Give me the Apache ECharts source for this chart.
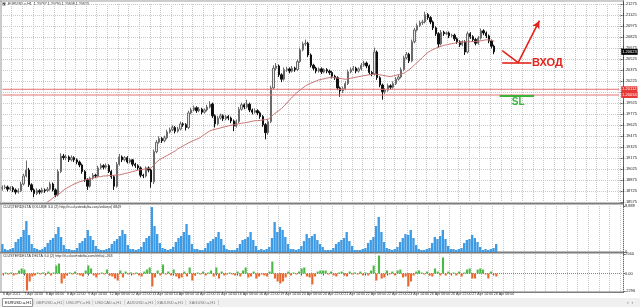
<!DOCTYPE html>
<html>
<head>
<meta charset="utf-8">
<script src="https://cdn.jsdelivr.net/npm/echarts@6.0.0/dist/echarts.min.js"></script>
<style>
html, body { margin: 0; padding: 0; background: #fff; }
#chart { width: 640px; height: 307px; }
</style>
</head>
<body>
<div id="chart"></div>
<script>
const tickLabels = ['6 Apr 2021', '7 Apr 14:00', '8 Apr 06:00', '8 Apr 22:00', '9 Apr 14:00', '12 Apr 06:00',
  '12 Apr 22:00', '13 Apr 14:00', '14 Apr 06:00', '14 Apr 22:00', '15 Apr 14:00', '16 Apr 06:00',
  '16 Apr 22:00', '19 Apr 14:00', '20 Apr 06:00', '20 Apr 22:00', '21 Apr 14:00', '22 Apr 06:00',
  '22 Apr 22:00', '23 Apr 14:00', '26 Apr 06:00', '26 Apr 22:00', '27 Apr 14:00', '28 Apr 06:00'];

const opens = [1.1876,1.1877,1.1878,1.1875,1.1877,1.1874,1.1871,1.1873,1.1882,1.1893,
  1.1901,1.1881,1.1874,1.1869,1.1873,1.1871,1.1874,1.1873,1.1875,1.1882,
  1.1874,1.1867,1.1899,1.1920,1.1918,1.1919,1.1915,1.1918,1.1915,1.1912,
  1.1908,1.1899,1.1888,1.1879,1.1890,1.1894,1.1893,1.1904,1.1907,1.1905,
  1.1907,1.1899,1.1892,1.1879,1.1909,1.1919,1.1915,1.1918,1.1912,1.1915,
  1.1909,1.1907,1.1904,1.1894,1.1893,1.1904,1.1901,1.1885,1.1926,1.1939,
  1.1944,1.1941,1.1945,1.1953,1.1956,1.1959,1.1954,1.1957,1.1964,1.1963,
  1.1959,1.1979,1.1983,1.1986,1.1982,1.1984,1.1980,1.1983,1.1987,1.1991,
  1.1975,1.1964,1.1972,1.1975,1.1971,1.1974,1.1972,1.1968,1.1961,1.1967,
  1.1984,1.1990,1.1987,1.1991,1.1983,1.1980,1.1982,1.1979,1.1974,1.1963,
  1.1952,1.1967,1.2013,1.2040,1.2043,1.2031,1.2025,1.2038,1.2039,1.2036,
  1.2040,1.2038,1.2049,1.2065,1.2073,1.2074,1.2058,1.2044,1.2040,1.2036,
  1.2039,1.2035,1.2038,1.2036,1.2034,1.2029,1.2027,1.2013,1.2009,1.2012,
  1.2019,1.2035,1.2038,1.2040,1.2036,1.2039,1.2044,1.2047,1.2043,1.2034,
  1.2032,1.2062,1.2027,1.2017,1.2008,1.2010,1.2016,1.2014,1.2019,1.2025,
  1.2028,1.2038,1.2054,1.2059,1.2050,1.2076,1.2092,1.2098,1.2102,1.2103,
  1.2113,1.2109,1.2103,1.2095,1.2087,1.2073,1.2089,1.2087,1.2088,1.2084,
  1.2085,1.2080,1.2076,1.2072,1.2076,1.2062,1.2087,1.2083,1.2079,1.2074,
  1.2081,1.2091,1.2088,1.2084,1.2077,1.2070];

const closes = [1.1877,1.1878,1.1875,1.1877,1.1874,1.1871,1.1873,1.1882,1.1893,1.1901,
  1.1881,1.1874,1.1869,1.1873,1.1871,1.1874,1.1873,1.1875,1.1882,1.1874,
  1.1867,1.1899,1.1920,1.1918,1.1919,1.1915,1.1918,1.1915,1.1912,1.1908,
  1.1899,1.1888,1.1879,1.1890,1.1894,1.1893,1.1904,1.1907,1.1905,1.1907,
  1.1899,1.1892,1.1879,1.1909,1.1919,1.1915,1.1918,1.1912,1.1915,1.1909,
  1.1907,1.1904,1.1894,1.1893,1.1904,1.1901,1.1885,1.1926,1.1939,1.1944,
  1.1941,1.1945,1.1953,1.1956,1.1959,1.1954,1.1957,1.1964,1.1963,1.1959,
  1.1979,1.1983,1.1986,1.1982,1.1984,1.1980,1.1983,1.1987,1.1991,1.1975,
  1.1964,1.1972,1.1975,1.1971,1.1974,1.1972,1.1968,1.1961,1.1967,1.1984,
  1.1990,1.1987,1.1991,1.1983,1.1980,1.1982,1.1979,1.1974,1.1963,1.1952,
  1.1967,1.2013,1.2040,1.2043,1.2031,1.2025,1.2038,1.2039,1.2036,1.2040,
  1.2038,1.2049,1.2065,1.2073,1.2074,1.2058,1.2044,1.2040,1.2036,1.2039,
  1.2035,1.2038,1.2036,1.2034,1.2029,1.2027,1.2013,1.2009,1.2012,1.2019,
  1.2035,1.2038,1.2040,1.2036,1.2039,1.2044,1.2047,1.2043,1.2034,1.2032,
  1.2062,1.2027,1.2017,1.2008,1.2010,1.2016,1.2014,1.2019,1.2025,1.2028,
  1.2038,1.2054,1.2059,1.2050,1.2076,1.2092,1.2098,1.2102,1.2103,1.2113,
  1.2109,1.2103,1.2095,1.2087,1.2073,1.2089,1.2087,1.2088,1.2084,1.2085,
  1.2080,1.2076,1.2072,1.2076,1.2062,1.2087,1.2083,1.2079,1.2074,1.2081,
  1.2091,1.2088,1.2084,1.2077,1.2070,1.20623];

const lows = [1.1873,1.1875,1.1872,1.1873,1.1871,1.1868,1.1869,1.1871,1.1880,1.1891,
  1.1878,1.1871,1.1864,1.1867,1.1868,1.1869,1.1870,1.1871,1.1873,1.1872,
  1.1864,1.1865,1.1897,1.1915,1.1915,1.1912,1.1913,1.1912,1.1909,1.1905,
  1.1896,1.1885,1.1874,1.1877,1.1888,1.1890,1.1891,1.1902,1.1902,1.1903,
  1.1897,1.1889,1.1874,1.1877,1.1907,1.1912,1.1913,1.1910,1.1910,1.1906,
  1.1904,1.1901,1.1891,1.1890,1.1891,1.1898,1.1877,1.1882,1.1924,1.1937,
  1.1938,1.1939,1.1943,1.1951,1.1954,1.1951,1.1952,1.1955,1.1960,1.1955,
  1.1957,1.1977,1.1981,1.1979,1.1980,1.1977,1.1978,1.1981,1.1985,1.1972,
  1.1959,1.1962,1.1970,1.1968,1.1969,1.1969,1.1965,1.1954,1.1959,1.1965,
  1.1982,1.1984,1.1985,1.1980,1.1977,1.1978,1.1976,1.1971,1.1960,1.1943,
  1.1949,1.1965,1.2011,1.2037,1.2028,1.2021,1.2023,1.2035,1.2033,1.2034,
  1.2035,1.2036,1.2047,1.2063,1.2070,1.2055,1.2041,1.2037,1.2033,1.2034,
  1.2032,1.2033,1.2033,1.2031,1.2026,1.2024,1.2010,1.2001,1.2006,1.2010,
  1.2017,1.2033,1.2036,1.2033,1.2034,1.2037,1.2042,1.2040,1.2031,1.2029,
  1.2030,1.2024,1.2014,1.1997,1.2005,1.2008,1.2011,1.2012,1.2017,1.2023,
  1.2026,1.2036,1.2052,1.2047,1.2048,1.2074,1.2090,1.2096,1.2099,1.2101,
  1.2106,1.2100,1.2092,1.2084,1.2068,1.2071,1.2084,1.2085,1.2081,1.2082,
  1.2077,1.2073,1.2069,1.2070,1.2058,1.2060,1.2080,1.2076,1.2071,1.2072,
  1.2079,1.2085,1.2081,1.2074,1.2067,1.2059];

const highs = [1.1880,1.1881,1.1880,1.1879,1.1879,1.1876,1.1876,1.1885,1.1896,1.1914,
  1.1904,1.1883,1.1876,1.1876,1.1875,1.1877,1.1876,1.1878,1.1885,1.1884,
  1.1876,1.1902,1.1924,1.1923,1.1922,1.1921,1.1921,1.1920,1.1917,1.1914,
  1.1910,1.1901,1.1890,1.1892,1.1897,1.1896,1.1907,1.1910,1.1909,1.1910,
  1.1909,1.1901,1.1894,1.1912,1.1923,1.1921,1.1920,1.1920,1.1917,1.1916,
  1.1911,1.1909,1.1906,1.1896,1.1906,1.1906,1.1903,1.1929,1.1942,1.1947,
  1.1946,1.1948,1.1956,1.1959,1.1962,1.1961,1.1960,1.1967,1.1966,1.1965,
  1.1982,1.1986,1.1989,1.1988,1.1987,1.1986,1.1985,1.1990,1.1995,1.1993,
  1.1977,1.1975,1.1978,1.1977,1.1976,1.1976,1.1974,1.1970,1.1970,1.1987,
  1.1993,1.1992,1.1997,1.1993,1.1985,1.1985,1.1984,1.1981,1.1976,1.1965,
  1.1970,1.2016,1.2044,1.2047,1.2045,1.2033,1.2041,1.2042,1.2041,1.2043,
  1.2042,1.2052,1.2068,1.2076,1.2079,1.2076,1.2060,1.2046,1.2042,1.2041,
  1.2041,1.2040,1.2040,1.2038,1.2036,1.2031,1.2029,1.2015,1.2015,1.2022,
  1.2038,1.2041,1.2043,1.2042,1.2041,1.2047,1.2050,1.2049,1.2045,1.2036,
  1.2068,1.2064,1.2029,1.2019,1.2013,1.2019,1.2018,1.2022,1.2028,1.2031,
  1.2041,1.2057,1.2062,1.2061,1.2079,1.2095,1.2101,1.2105,1.2106,1.2117,
  1.2115,1.2111,1.2105,1.2097,1.2089,1.2092,1.2091,1.2090,1.2090,1.2087,
  1.2087,1.2082,1.2078,1.2078,1.2078,1.2090,1.2089,1.2085,1.2081,1.2084,
  1.2094,1.2093,1.2090,1.2086,1.2079,1.2072];

// moving average as drawn (its start lies below the visible range)
const maValues = [null,null,null,null,null,null,null,null,null,null,null,null,
  1.18480,1.18494,1.18510,1.18530,1.18550,1.18576,1.18600,1.18630,
  1.18660,1.18680,1.18700,1.18740,1.18760,1.18780,1.18800,1.18820,1.18835,1.18850,
  1.18860,1.18875,1.18885,1.18890,1.18900,1.18910,1.18920,1.18920,1.18930,1.18930,
  1.18935,1.18938,1.18940,1.18942,1.18944,1.18953,1.18963,1.18970,1.18980,1.18990,
  1.18998,1.19010,1.19015,1.19020,1.19026,1.19030,1.19040,1.19080,1.19120,1.19150,
  1.19170,1.19190,1.19210,1.19230,1.19250,1.19270,1.19300,1.19320,1.19340,1.19360,
  1.19380,1.19400,1.19414,1.19430,1.19444,1.19470,1.19496,1.19520,1.19544,1.19557,
  1.19567,1.19575,1.19585,1.19594,1.19604,1.19612,1.19622,1.19628,1.19635,1.19642,
  1.19649,1.19655,1.19660,1.19668,1.19676,1.19683,1.19685,1.19688,1.19694,1.19698,
  1.19703,1.19735,1.19770,1.19796,1.19823,1.19850,1.19885,1.19925,1.19966,1.20007,
  1.20040,1.20075,1.20100,1.20130,1.20157,1.20178,1.20194,1.20210,1.20225,1.20240,
  1.20247,1.20255,1.20264,1.20272,1.20276,1.20270,1.20265,1.20260,1.20254,1.20248,
  1.20255,1.20262,1.20270,1.20277,1.20284,1.20290,1.20298,1.20304,1.20310,1.20315,
  1.20320,1.20315,1.20308,1.20303,1.20296,1.20290,1.20284,1.20294,1.20303,1.20313,
  1.20320,1.20330,1.20355,1.20380,1.20410,1.20444,1.20478,1.20510,1.20546,1.20580,
  1.20614,1.20635,1.20655,1.20670,1.20686,1.20699,1.20710,1.20718,1.20726,1.20733,
  1.20740,1.20746,1.20752,1.20756,1.20759,1.20760,1.20761,1.20763,1.20765,1.20768,
  1.20774,1.20780,1.20787,1.20785,1.20776,1.20768];

const volumes = [1540,
  580,390,580,770,1930,2510,2900,4250,5980,3280,1540,770,
  580,390,580,970,1740,2320,2700,3470,4830,2900,1350,580,
  580,390,390,770,1740,2120,2700,4250,3090,2320,1160,580,
  390,390,580,770,1540,2120,2510,3090,4250,3470,1350,580,
  580,390,580,970,1930,2700,3090,8690,5020,3470,1740,770,
  580,390,580,970,1930,2700,3090,3860,5400,3280,1540,580,
  580,390,390,770,1740,2120,2510,2900,3860,2510,1350,580,
  390,390,390,770,1540,2320,2510,2900,3860,2320,1160,390,
  580,390,580,970,2700,5790,3860,4830,4250,2900,1540,580,
  580,390,580,1160,2120,3470,2700,3090,3470,2320,1540,970,
  390,390,390,770,1540,1930,2320,2700,3860,2120,1160,390,
  390,390,580,770,1740,2320,2900,5020,6760,3860,1930,770,
  580,390,580,970,1930,2700,3470,3280,4250,2700,1350,580,
  390,390,580,770,1740,2900,2510,3090,4250,2510,1160,580,
  580,390,580,770,1740,2320,2510,3280,2700,1930,970,390,
  580,390,580,770,1540];

const deltas = [-130,130,-130,130,-260,-130,390,660,520,-2230,-1050,-390,-260,
  130,-130,130,-130,260,-260,130,1050,1310,-1310,-660,-260,
  130,-130,260,-130,-260,-390,390,1050,660,-260,-520,-130,
  130,-130,520,-260,-390,-660,-920,390,-520,260,-130,130,
  -130,130,-260,-390,260,520,790,-1700,-520,390,-260,1180,
  -130,260,-260,520,-390,-660,-520,260,-390,790,-920,-260,
  130,-130,260,-260,130,390,-390,790,-660,260,-260,-130,
  130,-130,-260,260,-390,390,790,-520,-390,260,-660,-390,
  -130,-260,-390,260,1570,-660,-1050,-1310,-1050,-520,260,-260,
  130,-130,260,660,790,-390,-520,-1440,-390,260,390,390,
  390,-130,260,-260,-390,130,260,-260,-390,260,-130,130,
  -130,260,-260,130,-260,390,1050,-920,2360,-660,-520,390,
  -130,260,-260,390,520,-520,-390,-1700,-1050,-260,260,390,
  130,-130,260,-260,-390,660,260,-260,2100,-260,260,-130,
  130,-260,260,-390,130,520,660,-660,-660,520,660,520,
  -130,-660,260,-130,-390];

const levels = [1.20112, 1.20034];
const volumeMax = 8889;
const deltaRange = [-2296, 2560];
const tabNames = ['EURUSD.a,H1', 'GBPUSD.a,H1', 'USDJPY.a,H1', 'USDCAD.a,H1', 'AUDUSD.a,H1', 'XAUUSD.a,H1', 'XAGUSD.a,H1'];
const slotCount = 233; // bars plus the empty shift area on the right

const categories = [];
for (let i = 0; i < slotCount; i++) categories.push(String(i));
const candles = opens.map((o, i) => [o, closes[i], lows[i], highs[i]]);
const lastClose = closes[closes.length - 1];
const lastSlot = slotCount - 1;

const font = 'Liberation Sans, DejaVu Sans, sans-serif';
const gridLine = { color: '#c9c9c9', type: 'dotted', width: 1 };
const labelAt = (idx) => idx % 8 === 0 && idx / 8 < tickLabels.length;

function xAxisFor(g, bottom) {
  return {
    type: 'category', gridIndex: g, data: categories, boundaryGap: true,
    axisLine: { show: false },
    axisTick: { show: bottom, interval: (i) => labelAt(i), alignWithLabel: true, length: 2, lineStyle: { color: '#555' } },
    axisLabel: {
      show: bottom, interval: (i) => labelAt(i), formatter: (v, i) => tickLabels[i / 8],
      align: 'left', fontSize: 3.6, color: '#333', margin: 1, fontFamily: font
    },
    splitLine: { show: true, interval: 3, lineStyle: gridLine }
  };
}

const tag = (value, bg) => ({
  show: true, formatter: value.toFixed(5), backgroundColor: bg,
  color: '#fff', fontSize: 4, padding: [1, 1], distance: 2
});

// support levels drawn as flat lines across the pane, tagged in the axis strip
const levelSeries = levels.map((v) => ({
  type: 'line', xAxisIndex: 0, yAxisIndex: 0, silent: true, symbol: 'none',
  data: [[0, v], [lastSlot, v]],
  lineStyle: { color: '#e27272', width: 1 },
  endLabel: tag(v, '#e53935')
}));

const redArrow = { color: '#e2231a', width: 1.6, type: 'solid' };
const noLabel = { show: false };

const chart = echarts.init(document.getElementById('chart'));
chart.setOption({
  animation: false,
  backgroundColor: '#fff',
  textStyle: { fontFamily: font },
  grid: [
    { left: 1, right: 17, top: 4, height: 198 },
    { left: 1, right: 17, top: 206, height: 46 },
    { left: 1, right: 17, top: 254, height: 37 }
  ],
  xAxis: [xAxisFor(0, false), xAxisFor(1, false), xAxisFor(2, true)],
  yAxis: [
    {
      type: 'value', gridIndex: 0, position: 'right', min: 1.18575, max: 1.21275, interval: 0.0015,
      axisLine: { show: false }, axisTick: { show: true, length: 2, lineStyle: { color: '#666' } },
      axisLabel: { fontSize: 4, color: '#222', margin: 2, formatter: (v) => v.toFixed(5) },
      splitLine: { show: true, lineStyle: gridLine }
    },
    {
      type: 'value', gridIndex: 1, position: 'right', min: 0, max: volumeMax, interval: volumeMax,
      axisLine: { show: false }, axisTick: { show: true, length: 2, lineStyle: { color: '#666' } },
      axisLabel: { fontSize: 4, color: '#222', margin: 2 },
      splitLine: { show: false }
    },
    {
      type: 'value', gridIndex: 2, position: 'right', min: deltaRange[0], max: deltaRange[1],
      axisLine: { show: false },
      axisTick: { show: true, length: 2, customValues: [deltaRange[0], 0, deltaRange[1]], lineStyle: { color: '#666' } },
      axisLabel: { fontSize: 4, color: '#222', margin: 2, customValues: [deltaRange[0], 0, deltaRange[1]],
        formatter: (v) => (v === 0 ? '0.00' : String(v)) },
      splitLine: { show: false }
    }
  ],
  series: [
    ...levelSeries,
    {
      type: 'candlestick', xAxisIndex: 0, yAxisIndex: 0, data: candles, barWidth: 1.8,
      itemStyle: { color: '#e8e8e8', color0: '#111', borderColor: '#6a6a6a', borderColor0: '#111', borderWidth: 1 },
      markLine: {
        silent: true, symbol: 'none',
        data: [
          [{ coord: [0, lastClose], lineStyle: { color: 'rgba(0,0,0,0)' },
             label: Object.assign(tag(lastClose, '#000'), { position: 'end' }) },
           { coord: [lastSlot, lastClose] }],
          [{ coord: [188, 1.20639], lineStyle: redArrow, label: noLabel }, { coord: [194, 1.20475] }],
          [{ coord: [194, 1.20475], lineStyle: redArrow, label: noLabel },
           { coord: [202, 1.21048], symbol: 'arrow', symbolSize: [6, 8] }],
          [{ coord: [188, 1.20475], lineStyle: redArrow, label: noLabel }, { coord: [199, 1.20475] }],
          [{ coord: [187, 1.20021], lineStyle: { color: '#3cb43c', width: 2, type: 'solid' }, label: noLabel },
           { coord: [200, 1.20021] }]
        ]
      },
      markPoint: {
        silent: true,
        data: [
          { coord: [205, 1.20475], symbol: 'rect', symbolSize: 1, itemStyle: { color: 'rgba(0,0,0,0)' },
            label: { show: true, position: 'inside', formatter: 'ВХОД', color: '#e2231a', fontSize: 11, fontWeight: 'bold' } },
          { coord: [194, 1.19932], symbol: 'rect', symbolSize: 1, itemStyle: { color: 'rgba(0,0,0,0)' },
            label: { show: true, position: 'inside', formatter: 'SL', color: '#3cb43c', fontSize: 10, fontWeight: 'bold' } }
        ]
      }
    },
    {
      type: 'line', xAxisIndex: 0, yAxisIndex: 0, data: maValues, symbol: 'none', clip: true,
      lineStyle: { color: '#c77474', width: 1 }
    },
    {
      type: 'bar', xAxisIndex: 1, yAxisIndex: 1, data: volumes, barCategoryGap: '12%',
      itemStyle: { color: '#3d9be6' }
    },
    {
      type: 'bar', xAxisIndex: 2, yAxisIndex: 2, data: deltas, barCategoryGap: '20%',
      itemStyle: { color: (p) => (p.value >= 0 ? '#4cb848' : '#e8682d') },
      markLine: {
        silent: true, symbol: 'none',
        data: [[{ coord: [0, 0], lineStyle: { color: '#888', type: 'dotted', width: 1 }, label: noLabel },
                { coord: [lastSlot, 0] }]]
      }
    }
  ],
  graphic: [
    { type: 'rect', shape: { x: 0, y: 0.5, width: 624, height: 1 }, style: { fill: '#999' }, silent: true },
    { type: 'rect', shape: { x: 0, y: 202.5, width: 624, height: 2 }, style: { fill: '#7c7c7c' }, silent: true },
    { type: 'rect', shape: { x: 0, y: 251.5, width: 624, height: 2 }, style: { fill: '#7c7c7c' }, silent: true },
    { type: 'rect', shape: { x: 0, y: 291.5, width: 624, height: 1.5 }, style: { fill: '#7c7c7c' }, silent: true },
    { type: 'rect', shape: { x: 0.5, y: 0.5, width: 1, height: 292 }, style: { fill: '#999' }, silent: true },
    { type: 'rect', shape: { x: 623, y: 0.5, width: 1, height: 292 }, style: { fill: '#666' }, silent: true },
    { type: 'rect', shape: { x: 2.5, y: 2.5, width: 3, height: 3 }, style: { fill: '#555' }, silent: true },
    { type: 'text', x: 8, y: 4, style: { text: 'EURUSD.a,H1  1.20767 1.20790 1.20608 1.20623', fontSize: 3.6,
      fill: '#222', fontFamily: font, verticalAlign: 'middle' }, silent: true },
    { type: 'text', x: 3, y: 206.5, style: { text: 'CLUSTERDELTA VOLUME 3.0 (2) http://ru.clusterdelta.com/volume| 6849',
      fontSize: 3.6, fill: '#222', fontFamily: font, verticalAlign: 'middle' }, silent: true },
    { type: 'text', x: 3, y: 256, style: { text: 'CLUSTERDELTA DELTA 3.0 (2) http://ru.clusterdelta.com/delta| -263',
      fontSize: 3.6, fill: '#222', fontFamily: font, verticalAlign: 'middle' }, silent: true },
    { type: 'rect', shape: { x: 0, y: 298, width: 640, height: 9 }, style: { fill: '#f0f0f0' }, silent: true },
    { type: 'rect', shape: { x: 2.5, y: 298.5, width: 30, height: 8 }, style: { fill: '#fff', stroke: '#999', lineWidth: 1 }, silent: true },
    ...tabNames.map((name, k) => ({
      type: 'text', x: [5, 36, 66, 95, 127, 157, 189][k], y: 303,
      style: { text: name, fontSize: 4, fill: k === 0 ? '#111' : '#777', fontFamily: font, verticalAlign: 'middle' }, silent: true
    })),
    ...[33.5, 63.5, 92.5, 124.5, 155, 185.5, 218].map((x) => ({
      type: 'rect', shape: { x: x, y: 300, width: 0.6, height: 5 }, style: { fill: '#bbb' }, silent: true
    })),
    { type: 'text', x: 627, y: 303, style: { text: '‹  ›', fontSize: 5, fill: '#777', fontFamily: font, verticalAlign: 'middle' }, silent: true }
  ]
});
</script>
</body>
</html>
